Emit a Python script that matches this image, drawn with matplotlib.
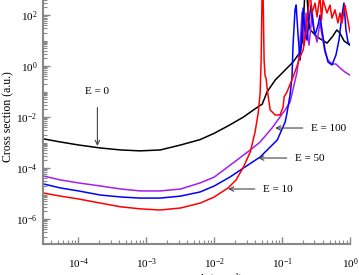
import numpy as np
import matplotlib
matplotlib.use("Agg")
import matplotlib.pyplot as plt
from matplotlib.ticker import FixedLocator, LogLocator, NullFormatter, LogFormatterSciNotation

plt.rcParams['font.family'] = ['Liberation Serif', 'DejaVu Serif']
plt.rcParams['mathtext.fontset'] = 'custom'
plt.rcParams['mathtext.rm'] = 'Liberation Serif'
plt.rcParams['mathtext.it'] = 'Liberation Serif:italic'

# E = 0
x_e0 = [3.0e-5, 5.4e-5, 1.0e-4, 2.1e-4, 4.2e-4, 8.1e-4, 1.6e-3, 3.2e-3, 6.2e-3, 1.0e-2,
        1.7e-2, 2.7e-2, 4.0e-2, 0.051, 0.060, 0.079, 0.111, 0.145, 0.184, 0.20,
        0.225, 0.243, 0.26, 0.33, 0.46, 0.56, 0.64, 0.71, 0.82, 1.0]
y_e0 = [1.4e-3, 1.05e-3, 8.0e-4, 6.1e-4, 5.1e-4, 4.7e-4, 5.1e-4, 8.0e-4, 1.3e-3, 2.3e-3,
        4.9e-3, 1.0e-2, 2.1e-2, 3.2e-2, 0.096, 0.28, 0.70, 1.43, 3.5, 10.4,
        5.8e3, 63, 26, 13.7, 7.9, 15, 26, 19.7, 9.6, 6.6]

# E = 10
x_e10 = [3.0e-5, 5.4e-5, 1.0e-4, 2.1e-4, 4.2e-4, 8.1e-4, 1.6e-3, 3.2e-3, 6.2e-3, 1.0e-2,
         1.6e-2, 2.1e-2, 2.7e-2, 3.4e-2, 0.040, 0.0444, 0.0475, 0.0491, 0.0516, 0.0543,
         0.0562, 0.0582, 0.0604, 0.0667, 0.079, 0.0935, 0.1035, 0.107, 0.118, 0.145,
         0.172, 0.184, 0.204, 0.225, 0.258, 0.276, 0.306, 0.327, 0.362, 0.381,
         0.401, 0.459, 0.508, 0.543, 0.601, 0.666, 0.713, 0.763, 0.844, 1.0]
y_e10 = [1.05e-5, 7.9e-6, 6.1e-6, 4.2e-6, 3.0e-6, 2.5e-6, 2.25e-6, 2.7e-6, 4.2e-6, 7.3e-6,
         1.65e-5, 3.4e-5, 1.1e-4, 4.3e-4, 2.6e-3, 1.4e-2, 8.7e-2, 1.7, 1.4e4, 1.7,
         0.4, 0.33, 0.12, 1.9e-2, 1.2e-2, 1.2e-2, 2.5e-2, 6.1e-2, 9.6e-2, 0.37,
         1.3, 2.3, 4.2, 19.7, 955, 120, 295, 84, 600, 63,
         390, 120, 246, 76, 160, 49, 120, 49, 246, 21.6]

# E = 50
x_e50 = [3.0e-5, 5.4e-5, 1.0e-4, 2.1e-4, 4.2e-4, 8.1e-4, 1.6e-3, 3.2e-3, 6.2e-3, 1.0e-2,
         1.7e-2, 2.7e-2, 4.75e-2, 8.5e-2, 0.111, 0.118, 0.131, 0.140, 0.145, 0.155,
         0.161, 0.172, 0.184, 0.197, 0.204, 0.217, 0.233, 0.249, 0.267, 0.286,
         0.306, 0.339, 0.362, 0.387, 0.429, 0.475, 0.543, 0.622, 0.689, 0.763,
         0.816, 0.873, 0.935, 1.0]
y_e50 = [2.4e-5, 1.65e-5, 1.26e-5, 8.7e-6, 7.3e-6, 6.6e-6, 6.6e-6, 7.9e-6, 1.15e-5, 1.97e-5,
         4.4e-5, 1.0e-4, 2.7e-4, 1.26e-3, 6.4e-3, 1.4e-2, 7.3e-2, 0.37, 6.6, 158,
         246, 16.5, 1.7, 26, 188, 26, 10.4, 63, 246, 40,
         16.5, 40, 100, 26, 4.2, 1.43, 1.1, 2.7, 10.4, 100,
         295, 26, 8.7, 6.6]

# E = 100
x_e100 = [3.0e-5, 5.4e-5, 1.0e-4, 2.1e-4, 4.2e-4, 8.1e-4, 1.6e-3, 3.2e-3, 6.2e-3, 1.0e-2,
          1.9e-2, 3.4e-2, 4.75e-2, 7.1e-2, 0.111, 0.131, 0.150, 0.166, 0.178, 0.190,
          0.197, 0.204, 0.211, 0.217, 0.225, 0.233, 0.249, 0.267, 0.276, 0.296,
          0.327, 0.362, 0.387, 0.429, 0.475, 0.543, 0.622, 0.713, 0.844, 1.0]
y_e100 = [4.9e-5, 3.4e-5, 2.6e-5, 1.97e-5, 1.5e-5, 1.26e-5, 1.26e-5, 1.5e-5, 2.6e-5, 4.4e-5,
          1.58e-4, 5.1e-4, 1.05e-3, 3.7e-3, 1.9e-2, 3.9e-2, 0.18, 0.58, 2.7, 26,
          131, 26, 6.6, 16.5, 120, 26, 6.6, 40, 158, 26,
          8.7, 53, 16.5, 3.5, 1.7, 1.2, 1.2, 0.84, 0.58, 0.44]

labels = ["E = 0", "E = 10", "E = 50", "E = 100"]
label_xy = [(1.9e-4, 0.096), (0.0525, 1.5e-5), (0.155, 2.46e-4), (0.267, 3.7e-3)]
arrow_tip = [(1.9e-4, 7.3e-4), (0.016, 1.5e-5), (0.0444, 2.46e-4), (0.079, 3.7e-3)]

fig = plt.figure(figsize=(3.59, 2.75), dpi=100)
ax = fig.add_axes([0.1198, 0.111, 0.855, 0.927])

ax.loglog(x_e0, y_e0, color='black', lw=1.1)
ax.loglog(x_e100, y_e100, color='#a020f0', lw=1.1)
ax.loglog(x_e50, y_e50, color='#0000ff', lw=1.1)
ax.loglog(x_e10, y_e10, color='#ff0000', lw=1.1)

ax.set_xlim(3e-5, 1.0)
ax.set_ylim(1e-7, 1e3)

# E = 0 label sits above its arrow, the others to the right
ax.annotate(labels[0], xy=arrow_tip[0], xytext=label_xy[0], ha='center', va='center',
            fontsize=8, arrowprops=dict(arrowstyle='->', color='#444444', lw=0.8, shrinkA=6, shrinkB=0))
for i in range(1, 4):
    ax.annotate(labels[i], xy=arrow_tip[i], xytext=label_xy[i], ha='left', va='center',
                fontsize=8, arrowprops=dict(arrowstyle='->', color='#444444', lw=0.8, shrinkA=4, shrinkB=0))

ax.yaxis.set_major_locator(FixedLocator([1e-6, 1e-4, 1e-2, 1e0, 1e2]))
ax.yaxis.set_major_formatter(LogFormatterSciNotation())
ax.yaxis.set_minor_locator(LogLocator(base=10, subs=np.arange(1, 10), numticks=30))
ax.yaxis.set_minor_formatter(NullFormatter())
ax.xaxis.set_major_locator(LogLocator(base=10, numticks=10))
ax.xaxis.set_minor_locator(LogLocator(base=10, subs=np.arange(2, 10), numticks=30))
ax.xaxis.set_minor_formatter(NullFormatter())

for s in ['top', 'right']:
    ax.spines[s].set_visible(False)
for s in ['left', 'bottom']:
    ax.spines[s].set_color('#888888')
    ax.spines[s].set_linewidth(1.5)

ax.tick_params(which='major', direction='in', length=5, width=1, color='#888888', labelsize=8)
ax.tick_params(axis='x', which='major', pad=8.5)
ax.tick_params(axis='y', which='major', pad=4)
ax.tick_params(which='minor', direction='in', length=3, width=0.8, color='#888888')

ax.set_ylabel("Cross section (a.u.)", fontsize=8.5)
ax.yaxis.set_label_coords(-0.094, 0.5)
# the x label falls mostly below the picture's lower edge, as in the original
ax.set_xlabel("k (a.u.$^{-1}$)", fontsize=8.5)
ax.xaxis.set_label_coords(0.584, -0.106)

fig.savefig('out.png', dpi=100)
